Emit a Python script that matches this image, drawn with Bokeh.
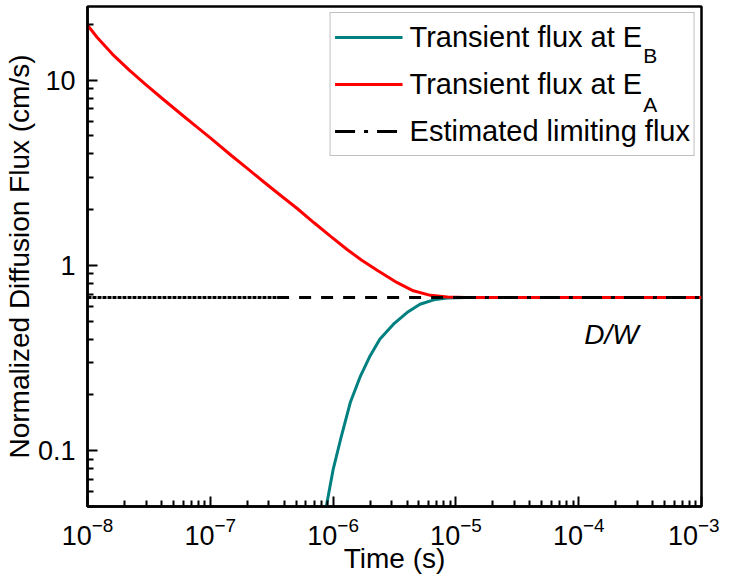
from bokeh.plotting import figure
from bokeh.models import (FixedTicker, LogTickFormatter, CustomJSTickFormatter,
                          Legend, LegendItem, Label, Range1d)
from bokeh.embed import file_html
from bokeh.resources import INLINE

# ---------------- data ----------------
time_A = [1.0e-8, 1.2e-8, 1.6e-8, 2.2e-8, 3.0e-8, 4.2e-8, 6.0e-8, 7.8e-8, 1.0e-7,
          1.5e-7, 2.0e-7, 2.7e-7, 3.7e-7, 5.1e-7, 7.0e-7, 9.5e-7, 1.3e-6, 1.7e-6,
          2.3e-6, 2.8e-6, 3.3e-6, 4.5e-6, 6.2e-6, 8.5e-6, 1.2e-5, 3.0e-5, 1.0e-4, 1.0e-3]
flux_A = [19.8, 17.0, 13.8, 11.3, 9.44, 7.82, 6.43, 5.58, 4.88,
          3.90, 3.34, 2.84, 2.40, 2.03, 1.70, 1.44, 1.22, 1.07,
          0.94, 0.866, 0.81, 0.73, 0.69, 0.676, 0.672, 0.672, 0.672, 0.672]

time_B = [8.8e-7, 1.0e-6, 1.15e-6, 1.38e-6, 1.67e-6, 2.0e-6, 2.4e-6, 3.1e-6, 4.0e-6,
          5.1e-6, 6.6e-6, 8.5e-6, 1.2e-5, 3.0e-5, 1.0e-4, 1.0e-3]
flux_B = [0.05, 0.079, 0.115, 0.182, 0.253, 0.325, 0.40, 0.482, 0.557,
          0.618, 0.652, 0.668, 0.672, 0.672, 0.672, 0.672]

time_lim = [1.0e-8, 3.5e-7, 1.0e-5, 1.0e-3]
flux_lim = [0.672, 0.672, 0.672, 0.672]

x_major = [1e-8, 1e-7, 1e-6, 1e-5, 1e-4, 1e-3]
y_major = [0.1, 1, 10]
y_labels = ["0.1", "1", "10"]
x_minor = [k * d for d in [1e-8, 1e-7, 1e-6, 1e-5, 1e-4] for k in range(2, 10)]
y_minor = [0.05, 0.06, 0.07, 0.08, 0.09, 0.2, 0.3, 0.4, 0.5, 0.6, 0.7, 0.8, 0.9,
           2, 3, 4, 5, 6, 7, 8, 9, 20]

legend_labels = ["Transient flux at E", "Transient flux at E", "Estimated limiting flux"]
legend_subs = ["B", "A"]

FONT = "Liberation Sans"

p = figure(frame_width=614, frame_height=500, x_axis_type="log", y_axis_type="log",
           x_range=Range1d(1e-8, 1e-3), y_range=Range1d(0.05, 25),
           output_backend="svg", toolbar_location=None,
           min_border_left=82, min_border_right=18, min_border_top=6,
           min_border_bottom=60)

p.xgrid.visible = False
p.ygrid.visible = False
p.outline_line_color = "black"
p.outline_line_width = 2.5
p.outline_line_alpha = 1.0
p.background_fill_color = "white"
p.border_fill_color = "white"

p.xaxis.ticker = FixedTicker(ticks=x_major, minor_ticks=x_minor)
p.yaxis.ticker = FixedTicker(ticks=y_major, minor_ticks=y_minor)
p.xaxis.formatter = LogTickFormatter()
p.yaxis.formatter = CustomJSTickFormatter(
    args=dict(tvals=y_major, tlabels=y_labels),
    code="""
    for (let i = 0; i < tvals.length; i++) {
        if (Math.abs(tvals[i] - tick) < 1e-6 * tvals[i]) return tlabels[i];
    }
    return '';
    """)

for ax in (p.xaxis[0], p.yaxis[0]):
    ax.axis_line_color = "black"
    ax.axis_line_width = 2.5
    ax.major_tick_in = 10
    ax.major_tick_out = 0
    ax.minor_tick_in = 6
    ax.minor_tick_out = 0
    ax.major_tick_line_width = 2
    ax.minor_tick_line_width = 2
    ax.major_tick_line_color = "black"
    ax.minor_tick_line_color = "black"
    ax.major_label_text_font = FONT
    ax.major_label_text_font_size = "27px"
    ax.major_label_text_color = "black"
    ax.axis_label_text_font = FONT
    ax.axis_label_text_font_size = "28px"
    ax.axis_label_text_font_style = "normal"
    ax.axis_label_text_color = "black"

p.yaxis.axis_label = "Normalized Diffusion Flux (cm/s)"
p.yaxis.major_label_standoff = 12
p.yaxis.axis_label_standoff = 0
p.xaxis.axis_label = "Time (s)"
p.xaxis.major_label_standoff = 10
p.xaxis.axis_label_standoff = -5

rB = p.line(time_B, flux_B, line_color="#008080", line_width=3)
rA = p.line(time_A, flux_A, line_color="#FF0000", line_width=3)
rL0 = p.line(time_lim[:2], flux_lim[:2], line_color="black", line_width=3, line_dash="4 1")
rL1 = p.line(time_lim[1:3], flux_lim[1:3], line_color="black", line_width=3, line_dash="12 10")
rL = p.line(time_lim[2:], flux_lim[2:], line_color="black", line_width=3, line_dash="20 9 4 9")

legend = Legend(items=[LegendItem(label=legend_labels[0], renderers=[rB]),
                       LegendItem(label=legend_labels[1], renderers=[rA]),
                       LegendItem(label=legend_labels[2], renderers=[rL])],
                location="top_right", margin=6, padding=4, spacing=7,
                glyph_width=68, glyph_height=40, label_height=40,
                label_standoff=7, border_line_color="#808080",
                border_line_width=1, background_fill_alpha=0.0,
                label_text_font=FONT, label_text_font_size="29px",
                label_text_color="black")
p.add_layout(legend)

for sub, yb in zip(legend_subs, [13.65, 7.42]):
    p.add_layout(Label(x=3.35e-4, y=yb, text=sub, text_font=FONT,
                       text_font_size="21px", text_align="left",
                       text_baseline="alphabetic", text_color="black"))

p.add_layout(Label(x=1.11e-4, y=0.424, text="D/W", text_font=FONT,
                   text_font_size="28px", text_font_style="italic",
                   text_baseline="alphabetic", text_color="black"))

open("out.html", "w").write(file_html(p, INLINE))
